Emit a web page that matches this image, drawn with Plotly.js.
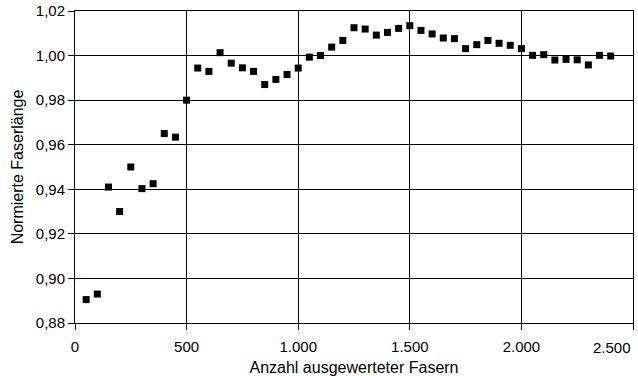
<!DOCTYPE html>
<html>
<head>
<meta charset="utf-8">
<script src="https://cdn.plot.ly/plotly-3.0.1.min.js"></script>
<style>html,body{margin:0;padding:0;background:#fff;}#chart{width:638px;height:376px;}</style>
</head>
<body>
<div id="chart"></div>
<script>
const fibreCounts = [50,100,150,200,250,300,350,400,450,500,550,600,650,700,750,800,850,900,950,1000,1050,1100,1150,1200,1250,1300,1350,1400,1450,1500,1550,1600,1650,1700,1750,1800,1850,1900,1950,2000,2050,2100,2150,2200,2250,2300,2350,2400];
const normLength = [0.8905,0.893,0.941,0.930,0.950,0.9403,0.9425,0.965,0.9634,0.980,0.9944,0.9929,1.0013,0.9966,0.9945,0.9929,0.987,0.9893,0.9915,0.9944,0.9993,1.0000,1.0038,1.0068,1.0125,1.0119,1.0092,1.0104,1.0122,1.0134,1.0113,1.0097,1.0079,1.0076,1.0031,1.0049,1.0068,1.0055,1.0046,1.0031,1.0001,1.0004,0.998,0.9983,0.9981,0.9958,1.0001,0.9998];
const xTicks = [0,500,1000,1500,2000,2500];
const xTickLabels = ['0','500','1.000','1.500','2.000','2.500'];
const yTicks = [0.88,0.90,0.92,0.94,0.96,0.98,1.00,1.02];

const fam = '"Liberation Sans", Arial, sans-serif';
const tickFont = {family:fam, size:15, color:'#000'};
const titleFont = {family:fam, size:16, color:'#000'};
const lastIdx = xTicks.length - 1;
// The last x label sits inside the chart's right edge (right-aligned to its tick), as in the reference.
const shownText = xTickLabels.map((t, i) => i === lastIdx ? '' : t);

Plotly.newPlot('chart', [{
  x: fibreCounts, y: normLength, type:'scatter', mode:'markers',
  marker:{symbol:'square', size:7, color:'#000'}
}], {
  width:638, height:376,
  separators: ',.',
  margin:{l:75, r:5, t:11, b:53},
  paper_bgcolor:'#fff', plot_bgcolor:'#fff',
  font: tickFont,
  showlegend:false,
  xaxis:{range:[0,2500], tickmode:'array', tickvals:xTicks, ticktext:shownText, showgrid:true, gridcolor:'#000', gridwidth:1,
    showline:true, linecolor:'#000', linewidth:1, mirror:true, ticks:'outside', ticklen:6, tickcolor:'#000',
    ticklabelstandoff:4, tickfont:tickFont,
    zeroline:false, title:{text:'Anzahl ausgewerteter Fasern', font:titleFont, standoff:8}},
  yaxis:{range:[0.88,1.02], tickvals:yTicks, tickformat:'.2f', showgrid:true, gridcolor:'#000', gridwidth:1,
    showline:true, linecolor:'#000', linewidth:1, mirror:true, ticks:'outside', ticklen:6, tickcolor:'#000',
    tickfont:tickFont,
    zeroline:false, title:{text:'Normierte Faserlänge', font:titleFont, standoff:8}},
  annotations:[{
    text: xTickLabels[lastIdx], x: xTicks[lastIdx], xref:'x', xanchor:'right',
    y: 0, yref:'paper', yanchor:'top', yshift:-14, showarrow:false, font:tickFont
  }]
}, {displayModeBar:false, staticPlot:true});
</script>
</body>
</html>
